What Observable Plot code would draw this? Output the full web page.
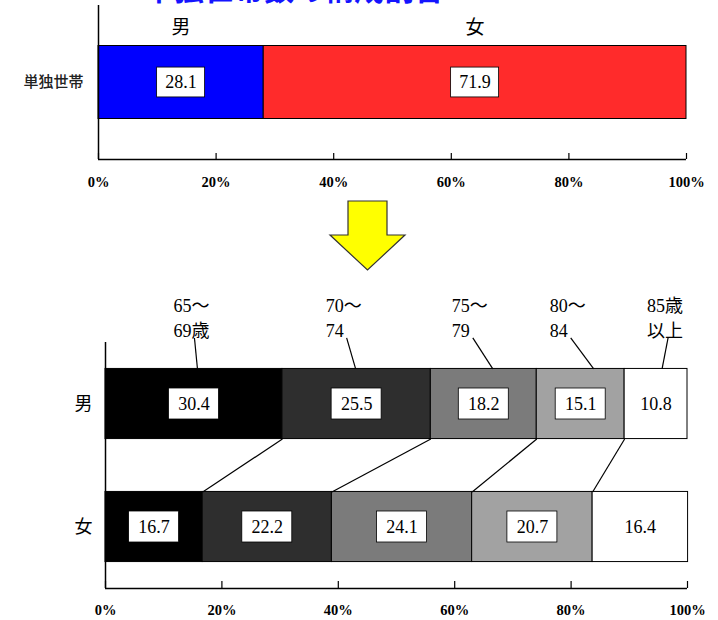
<!DOCTYPE html>
<html><head><meta charset="utf-8">
<script src="https://cdn.jsdelivr.net/npm/d3@7"></script>
<script src="https://cdn.jsdelivr.net/npm/@observablehq/plot@0.6"></script>
<style>
body{margin:0;background:#fff;}
#wrap{position:relative;width:718px;height:620px;overflow:hidden;background:#fff;}
#title{position:absolute;left:144px;top:-28px;font:bold 30px "Noto Sans CJK JP";color:#1414ff;white-space:nowrap;line-height:30px;}
#top{position:absolute;left:0;top:0;}
#arrow{position:absolute;left:0;top:0;}
#bottom{position:absolute;left:0;top:280px;}
#wrap svg{font-family:"Liberation Serif","DejaVu Serif","Noto Sans CJK JP",serif;}
</style></head><body>
<div id="wrap"><div id="title"></div><div id="top"></div><svg id="arrow" width="718" height="620"></svg><div id="bottom"></div></div>
<script>
// ---- data ----
const title = "単独世帯数の構成割合";
const topCategory = ["単独世帯"];
const sexes = ["男", "女"];
const topShares = [28.1, 71.9];
const ageGroups = [["65～", "69歳"], ["70～", "74"], ["75～", "79"], ["80～", "84"], ["85歳", "以上"]];
const maleShares = [30.4, 25.5, 18.2, 15.1, 10.8];
const femaleShares = [16.7, 22.2, 24.1, 20.7, 16.4];
const xTicks = [0, 20, 40, 60, 80, 100];

// ---- styles / layout ----
const cjk = '"Noto Sans CJK JP"';
const topColors = ["#0000ff", "#ff2b2b"];
const ageColors = ["#000000", "#2e2e2e", "#7b7b7b", "#a2a2a2", "#ffffff"];
const leaderTopShiftPx = [0.5, -10, -11, -10, 12];
const leaderBottomShiftPx = [3.5, -1, 9, 13, 6];
const labelIndentPx = 21;

document.getElementById("title").textContent = title;

function stack(vals) {
  let c = 0;
  return vals.map((v, i) => { const s = {i, v, x1: c, x2: c + v, mid: c + v / 2}; c += v; return s; });
}

// ---- top chart ----
const topSegs = stack(topShares).map(d => ({...d, sex: sexes[d.i], cat: topCategory[0]}));
const tH = 0.237;
const tPx = 588 / 100;
const topPlot = Plot.plot({
  width: 718, height: 200,
  marginLeft: 98, marginRight: 32, marginTop: 5, marginBottom: 41,
  x: {domain: [0, 100], axis: null},
  y: {domain: [-0.5, 0.5], axis: null},
  style: {background: "transparent"},
  marks: [
    Plot.rect(topSegs, {x1: "x1", x2: "x2", y1: -tH, y2: tH, fill: d => topColors[d.i], stroke: "#000", strokeWidth: 1}),
    Plot.rect(topSegs, {x1: d => d.mid - 24 / tPx, x2: d => d.mid + 24 / tPx, y1: -0.097, y2: 0.097, fill: "#fff", stroke: "#000", strokeWidth: 0.8}),
    Plot.text(topSegs, {x: "mid", y: 0, text: d => d.v.toFixed(1), fontSize: 18, fill: "#000"}),
    Plot.text(topSegs, {x: "mid", y: 0.354, text: "sex", fontSize: 19, fill: "#000", fontFamily: cjk}),
    Plot.text(topCategory, {x: 0, y: 0, text: d => d, textAnchor: "end", dx: -15, fontSize: 15, fontWeight: 500, fill: "#222", fontFamily: cjk}),
    Plot.ruleX([0], {stroke: "#000", strokeWidth: 1.5}),
    Plot.ruleY([-0.5], {stroke: "#000", strokeWidth: 1.5}),
    Plot.tickX(xTicks, {x: d => d, insetTop: 148, stroke: "#000", strokeWidth: 1.2}),
    Plot.text(xTicks, {x: d => d, y: -0.5, dy: 23, text: d => d + "%", fontSize: 14.5, fontWeight: "bold"})
  ]
});
document.getElementById("top").appendChild(topPlot);

// ---- arrow (decoration) ----
const arrowPts = [[348,201],[387,201],[387,235],[405,235],[367.5,270],[330,235],[348,235]];
d3.select("#arrow").append("polygon")
  .attr("points", arrowPts.map(p => p.join(",")).join(" "))
  .attr("fill", "#ffff00").attr("stroke", "#333").attr("stroke-width", 1.2);

// ---- bottom chart ----
const bPx = 582 / 100;
const bH = 0.285;
const rows = [
  {sex: sexes[0], y: 1, segs: stack(maleShares)},
  {sex: sexes[1], y: 0, segs: stack(femaleShares)}
];
const bSegs = rows.flatMap(r => r.segs.map(s => ({...s, y: r.y, sex: r.sex})));
const mCum = rows[0].segs, fCum = rows[1].segs;
const connectors = mCum.slice(0, 4).map((s, k) => ({x1: s.x2, x2: fCum[k].x2}));
const ageLabels = mCum.map((s, k) => ({
  text: ageGroups[k].join("\n"),
  xt: s.mid + leaderTopShiftPx[k] / bPx,
  xl: s.mid + (leaderTopShiftPx[k] - labelIndentPx) / bPx,
  xb: s.mid + leaderBottomShiftPx[k] / bPx
}));
const leaderTop = 1 + bH + 31 / 123;

const bottomPlot = Plot.plot({
  width: 718, height: 340,
  marginLeft: 105, marginRight: 31, marginTop: 62, marginBottom: 32,
  x: {domain: [0, 100], axis: null},
  y: {domain: [-0.5, 1.5], axis: null},
  style: {background: "transparent"},
  marks: [
    Plot.rect(bSegs, {x1: "x1", x2: "x2", y1: d => d.y - bH, y2: d => d.y + bH, fill: d => ageColors[d.i], stroke: "#000", strokeWidth: 1}),
    Plot.rect(bSegs, {x1: d => d.mid - 25 / bPx, x2: d => d.mid + 25 / bPx, y1: d => d.y - 0.126, y2: d => d.y + 0.126, fill: "#fff", stroke: d => d.i === 4 ? "none" : "#000", strokeWidth: 0.8}),
    Plot.text(bSegs, {x: "mid", y: "y", text: d => d.v.toFixed(1), fontSize: 18, fill: "#000"}),
    Plot.link(connectors, {x1: "x1", y1: 1 - bH, x2: "x2", y2: bH, stroke: "#000", strokeWidth: 1.2}),
    Plot.link(ageLabels, {x1: "xt", y1: leaderTop, x2: "xb", y2: 1 + bH, stroke: "#000", strokeWidth: 1.2}),
    Plot.text(ageLabels, {x: "xl", y: leaderTop, text: "text", textAnchor: "start", lineAnchor: "bottom", lineHeight: 1.4, dy: -1, fontSize: 18, fill: "#000"}),
    Plot.text(rows, {x: 0, y: "y", text: "sex", textAnchor: "end", dx: -13, fontSize: 18, fontFamily: cjk}),
    Plot.ruleX([0], {stroke: "#000", strokeWidth: 1.5}),
    Plot.ruleY([-0.5], {stroke: "#000", strokeWidth: 1.5}),
    Plot.tickX(xTicks, {x: d => d, insetTop: 239, stroke: "#000", strokeWidth: 1.2}),
    Plot.text(xTicks, {x: d => d, y: -0.5, dy: 22, text: d => d + "%", fontSize: 14.5, fontWeight: "bold"})
  ]
});
document.getElementById("bottom").appendChild(bottomPlot);
</script>
</body></html>
